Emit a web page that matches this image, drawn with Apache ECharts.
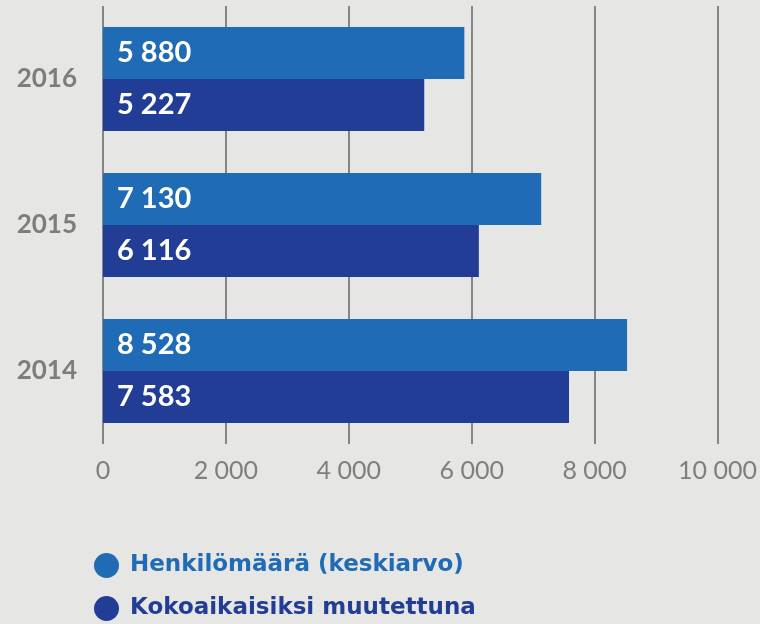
<!DOCTYPE html>
<html><head><meta charset="utf-8">
<script src="https://cdn.jsdelivr.net/npm/echarts@6/dist/echarts.min.js"></script>
<style>html,body{margin:0;padding:0;background:#e6e6e4;}#c{width:760px;height:624px;}</style>
</head><body><div id="c"></div>
<script>
const years = ['2016', '2015', '2014'];
const seriesNames = ['Henkilömäärä (keskiarvo)', 'Kokoaikaisiksi muutettuna'];
const henkilomaara = [5880, 7130, 8528];
const kokoaikaisiksi = [5227, 6116, 7583];
const xTicks = [0, 2000, 4000, 6000, 8000, 10000];
const colors = ['#1f6bb5', '#223d96'];

const fmt = v => String(v).replace(/\B(?=(\d{3})+(?!\d))/g, ' ');
const font = 'Lato, "Noto Sans", sans-serif';
const legendFont = '"DejaVu Sans", sans-serif';

const chart = echarts.init(document.getElementById('c'), null, {renderer: 'canvas'});
const label = {
  show: true, position: 'insideLeft', distance: 14,
  color: '#ffffff', fontSize: 29, fontWeight: 'bold', fontFamily: font,
  formatter: p => fmt(p.value)
};
const legendBase = {
  orient: 'vertical', left: 89, icon: 'circle', itemWidth: 25, itemHeight: 25,
  textStyle: {fontSize: 23, fontWeight: 'bold', fontFamily: legendFont, padding: [0, 0, 0, 6]}
};
chart.setOption({
  backgroundColor: '#e6e6e4',
  animation: false,
  grid: {left: 103, right: 39, top: 6, height: 438, containLabel: false},
  xAxis: {
    type: 'value', min: xTicks[0], max: xTicks[xTicks.length - 1], interval: 2000,
    axisLine: {show: false}, axisTick: {show: false},
    splitLine: {show: true, lineStyle: {color: '#858585', width: 2}},
    axisLabel: {margin: 14, color: '#7f7f7f', fontSize: 25, fontFamily: font,
      formatter: v => fmt(v)}
  },
  yAxis: {
    type: 'category', data: years, inverse: true,
    axisLine: {show: false}, axisTick: {show: false},
    axisLabel: {margin: 26, color: '#7d7d7d', fontSize: 26, fontWeight: 'bold', fontFamily: font}
  },
  legend: [
    Object.assign({}, legendBase, {top: 548, data: [{name: seriesNames[0], textStyle: {color: colors[0]}}]}),
    Object.assign({}, legendBase, {top: 591, data: [{name: seriesNames[1], textStyle: {color: colors[1]}}]})
  ],
  series: [
    {name: seriesNames[0], type: 'bar', data: henkilomaara, barWidth: 52, barGap: '0%',
      itemStyle: {color: colors[0]}, label: label},
    {name: seriesNames[1], type: 'bar', data: kokoaikaisiksi, barWidth: 52, barGap: '0%',
      itemStyle: {color: colors[1]}, label: label}
  ]
});
</script></body></html>
